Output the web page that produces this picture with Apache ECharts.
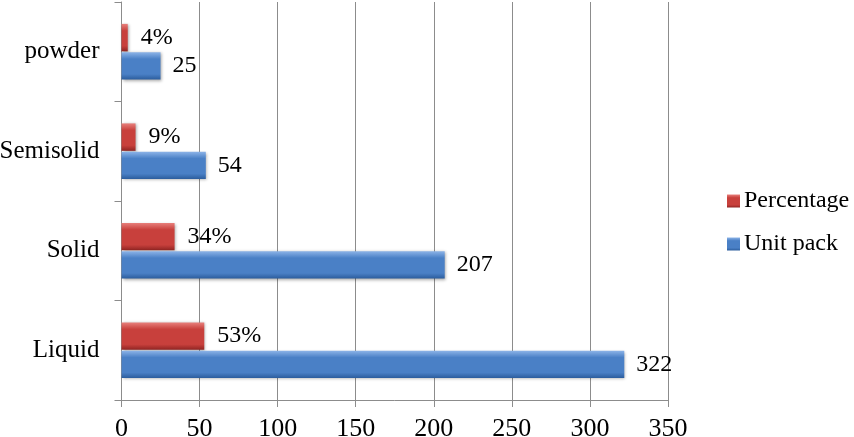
<!DOCTYPE html>
<html>
<head>
<meta charset="utf-8">
<script src="https://cdn.jsdelivr.net/npm/echarts@6/dist/echarts.min.js"></script>
<style>html,body{margin:0;padding:0;background:#fff;}#c{width:854px;height:437px;}</style>
</head>
<body>
<div id="c"></div>
<script>
var categories = ['Liquid', 'Solid', 'Semisolid', 'powder'];
var percentage = [53, 34, 9, 4];
var unitPack = [322, 207, 54, 25];
var xTicks = [0, 50, 100, 150, 200, 250, 300, 350];

var FONT = '"Liberation Serif", "Times New Roman", serif';
var chart = echarts.init(document.getElementById('c'));

function grad(top, mid, bottom) {
  return new echarts.graphic.LinearGradient(0, 0, 0, 1, [
    {offset: 0, color: top},
    {offset: 0.25, color: mid},
    {offset: 0.8, color: mid},
    {offset: 1, color: bottom}
  ]);
}

chart.setOption({
  animation: false,
  backgroundColor: '#ffffff',
  grid: {left: 121.5, right: 186, top: 2, bottom: 37, containLabel: false, outerBoundsMode: 'none'},
  legend: {
    orient: 'vertical',
    left: 722,
    top: 184,
    itemWidth: 13,
    itemHeight: 13,
    itemGap: 19,
    icon: 'rect',
    data: ['Percentage', 'Unit pack'],
    textStyle: {fontFamily: FONT, fontSize: 24, color: '#000', lineHeight: 24, padding: [0, 0, 0, -1]}
  },
  xAxis: {
    type: 'value',
    min: xTicks[0],
    max: xTicks[xTicks.length - 1],
    interval: 50,
    axisLine: {show: true, lineStyle: {color: '#8c8c8c', width: 1}},
    axisTick: {show: true, length: 7, lineStyle: {color: '#8c8c8c'}},
    splitLine: {show: true, lineStyle: {color: '#8c8c8c', width: 1}},
    axisLabel: {fontFamily: FONT, fontSize: 26, color: '#000', margin: 16}
  },
  yAxis: {
    type: 'category',
    data: categories,
    axisLine: {show: true, lineStyle: {color: '#8c8c8c', width: 1}},
    axisTick: {show: true, length: 7, lineStyle: {color: '#8c8c8c'}},
    axisLabel: {fontFamily: FONT, fontSize: 25, color: '#000', margin: 22}
  },
  series: [
    {
      name: 'Percentage',
      type: 'bar',
      data: percentage,
      barGap: '3%',
      barCategoryGap: '44%',
      itemStyle: {
        color: grad('#e8807c', '#c8403c', '#8f2422'),
        shadowColor: 'rgba(0,0,0,0.35)', shadowBlur: 3, shadowOffsetX: 1, shadowOffsetY: 1
      },
      label: {show: true, position: 'right', distance: 13, fontFamily: FONT, fontSize: 24, color: '#000', formatter: '{c}%'}
    },
    {
      name: 'Unit pack',
      type: 'bar',
      data: unitPack,
      barGap: '3%',
      barCategoryGap: '44%',
      itemStyle: {
        color: grad('#8db4e8', '#4a80c6', '#2b5c9c'),
        shadowColor: 'rgba(0,0,0,0.35)', shadowBlur: 3, shadowOffsetX: 1, shadowOffsetY: 1
      },
      label: {show: true, position: 'right', distance: 12, fontFamily: FONT, fontSize: 24, color: '#000'}
    }
  ]
});
</script>
</body>
</html>
